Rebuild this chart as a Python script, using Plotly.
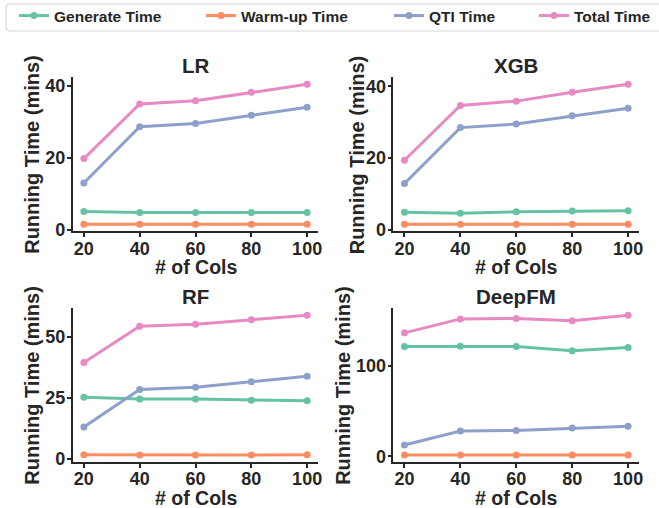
import plotly.graph_objects as go

cols = [20, 40, 60, 80, 100]
series_names = ["Generate Time", "Warm-up Time", "QTI Time", "Total Time"]
colors = ["#66c2a5", "#fc8d62", "#8da0cb", "#e78ac3"]
models = ["LR", "XGB", "RF", "DeepFM"]

lr_generate = [5.1, 4.8, 4.8, 4.8, 4.8]
lr_warmup = [1.5, 1.5, 1.5, 1.5, 1.5]
lr_qti = [13.0, 28.7, 29.6, 31.9, 34.1]
lr_total = [19.8, 35.0, 35.9, 38.3, 40.5]

xgb_generate = [4.9, 4.6, 5.0, 5.2, 5.3]
xgb_warmup = [1.5, 1.5, 1.5, 1.5, 1.5]
xgb_qti = [12.9, 28.5, 29.5, 31.8, 33.9]
xgb_total = [19.4, 34.7, 35.9, 38.4, 40.6]

rf_generate = [25.3, 24.6, 24.5, 24.0, 23.8]
rf_warmup = [1.6, 1.5, 1.5, 1.5, 1.6]
rf_qti = [13.0, 28.5, 29.4, 31.7, 33.9]
rf_total = [39.6, 54.5, 55.3, 57.2, 59.0]

deepfm_generate = [121.3, 121.7, 121.3, 116.5, 120.2]
deepfm_warmup = [1.5, 1.5, 1.5, 1.5, 1.5]
deepfm_qti = [12.5, 27.9, 28.7, 31.2, 33.4]
deepfm_total = [136.4, 151.8, 152.2, 149.9, 155.8]

panel_data = {
    "LR": [lr_generate, lr_warmup, lr_qti, lr_total],
    "XGB": [xgb_generate, xgb_warmup, xgb_qti, xgb_total],
    "RF": [rf_generate, rf_warmup, rf_qti, rf_total],
    "DeepFM": [deepfm_generate, deepfm_warmup, deepfm_qti, deepfm_total],
}
y_ticks = {"LR": [0, 20, 40], "XGB": [0, 20, 40], "RF": [0, 25, 50], "DeepFM": [0, 100]}
x_label = "# of Cols"
y_label = "Running Time (mins)"

W, H = 659, 508
FONT = "Liberation Sans"
INK = "#262626"

# pixel boxes (left, right, top, bottom)
boxes = {
    "LR": (72.7, 318.3, 77.3, 231.3),
    "XGB": (393.3, 639.3, 77.3, 231.3),
    "RF": (72.7, 318.3, 308.3, 462.0),
    "DeepFM": (393.3, 639.3, 308.3, 462.0),
}
ylabel_x = {"LR": 32.5, "XGB": 357.0, "RF": 32.5, "DeepFM": 342.7}
legend_x = [14, 201, 389, 534]
legend_yc = 16

def pad_range(vals, frac=0.05):
    lo, hi = min(vals), max(vals)
    p = (hi - lo) * frac
    return [lo - p, hi + p]

def px(x):
    return x / W

def py(y):
    return 1 - y / H

fig = go.Figure()
layout = dict(
    width=W, height=H,
    margin=dict(l=0, r=0, t=0, b=0, autoexpand=False),
    paper_bgcolor="white", plot_bgcolor="white",
    font=dict(family=FONT, color=INK),
    showlegend=True,
)
for j, name in enumerate(series_names):
    key = "legend" if j == 0 else f"legend{j + 1}"
    layout[key] = dict(
        orientation="h", x=px(legend_x[j]), y=py(legend_yc),
        xanchor="left", yanchor="middle",
        borderwidth=0, bgcolor="rgba(0,0,0,0)",
        font=dict(family=FONT, size=15.5, color=INK, weight="bold"),
        itemwidth=30,
    )

annotations = []
for i, m in enumerate(models):
    n = i + 1
    xa = "x" if n == 1 else f"x{n}"
    ya = "y" if n == 1 else f"y{n}"
    l, r, t, b = boxes[m]
    for j, name in enumerate(series_names):
        fig.add_trace(go.Scatter(
            x=cols, y=panel_data[m][j], mode="lines+markers", name=name,
            line=dict(color=colors[j], width=3), marker=dict(color=colors[j], size=7),
            xaxis=xa, yaxis=ya, showlegend=(i == 0),
            legend="legend" if j == 0 else f"legend{j + 1}",
        ))
    allv = [v for s in panel_data[m] for v in s]
    common = dict(
        showline=True, linecolor=INK, linewidth=1.5, ticks="outside", ticklen=4,
        tickwidth=1.5, tickcolor=INK, showgrid=False, zeroline=False,
        automargin=False,
        tickfont=dict(family=FONT, size=18, color=INK, weight="bold"),
    )
    layout["xaxis" if n == 1 else f"xaxis{n}"] = dict(
        domain=[px(l), px(r)], anchor=ya, range=pad_range(cols), tickvals=cols,
        ticklabelstandoff=-4,
        **common,
    )
    layout["yaxis" if n == 1 else f"yaxis{n}"] = dict(
        domain=[py(b), py(t)], anchor=xa, range=pad_range(allv),
        tickvals=y_ticks[m], ticklabelstandoff=-2,
        **common,
    )
    cx = (l + r) / 2
    # subplot title
    annotations.append(dict(
        text=m, x=px(cx), y=py(t - 11.5), xref="paper", yref="paper",
        xanchor="center", yanchor="middle", showarrow=False,
        font=dict(family=FONT, size=20.5, color=INK, weight="bold"),
    ))
    # x label
    annotations.append(dict(
        text=x_label, x=px(cx), y=py(b + 35.5), xref="paper", yref="paper",
        xanchor="center", yanchor="middle", showarrow=False,
        font=dict(family=FONT, size=19.5, color=INK, weight="bold"),
    ))
    # y label
    annotations.append(dict(
        text=y_label, x=px(ylabel_x[m]), y=py((t + b) / 2), xref="paper", yref="paper",
        xanchor="center", yanchor="middle", showarrow=False, textangle=-90,
        font=dict(family=FONT, size=20, color=INK, weight="bold"),
    ))
layout["annotations"] = annotations

# legend frame (rounded left corners, open past the right edge)
x0, x1, y0, y1, rr = 6, 670, 4, 31, 4
layout["shapes"] = [dict(
    type="path", xref="paper", yref="paper",
    path=(f"M {px(x0 + rr)} {py(y0)} L {px(x1)} {py(y0)} L {px(x1)} {py(y1)} "
          f"L {px(x0 + rr)} {py(y1)} Q {px(x0)} {py(y1)} {px(x0)} {py(y1 - rr)} "
          f"L {px(x0)} {py(y0 + rr)} Q {px(x0)} {py(y0)} {px(x0 + rr)} {py(y0)}"),
    line=dict(color="#d6d6d6", width=1.2), fillcolor="rgba(0,0,0,0)", layer="below",
)]
fig.update_layout(**layout)
fig.write_html("out.html", config={"displayModeBar": False},
               post_script="document.body.style.margin='0';")
